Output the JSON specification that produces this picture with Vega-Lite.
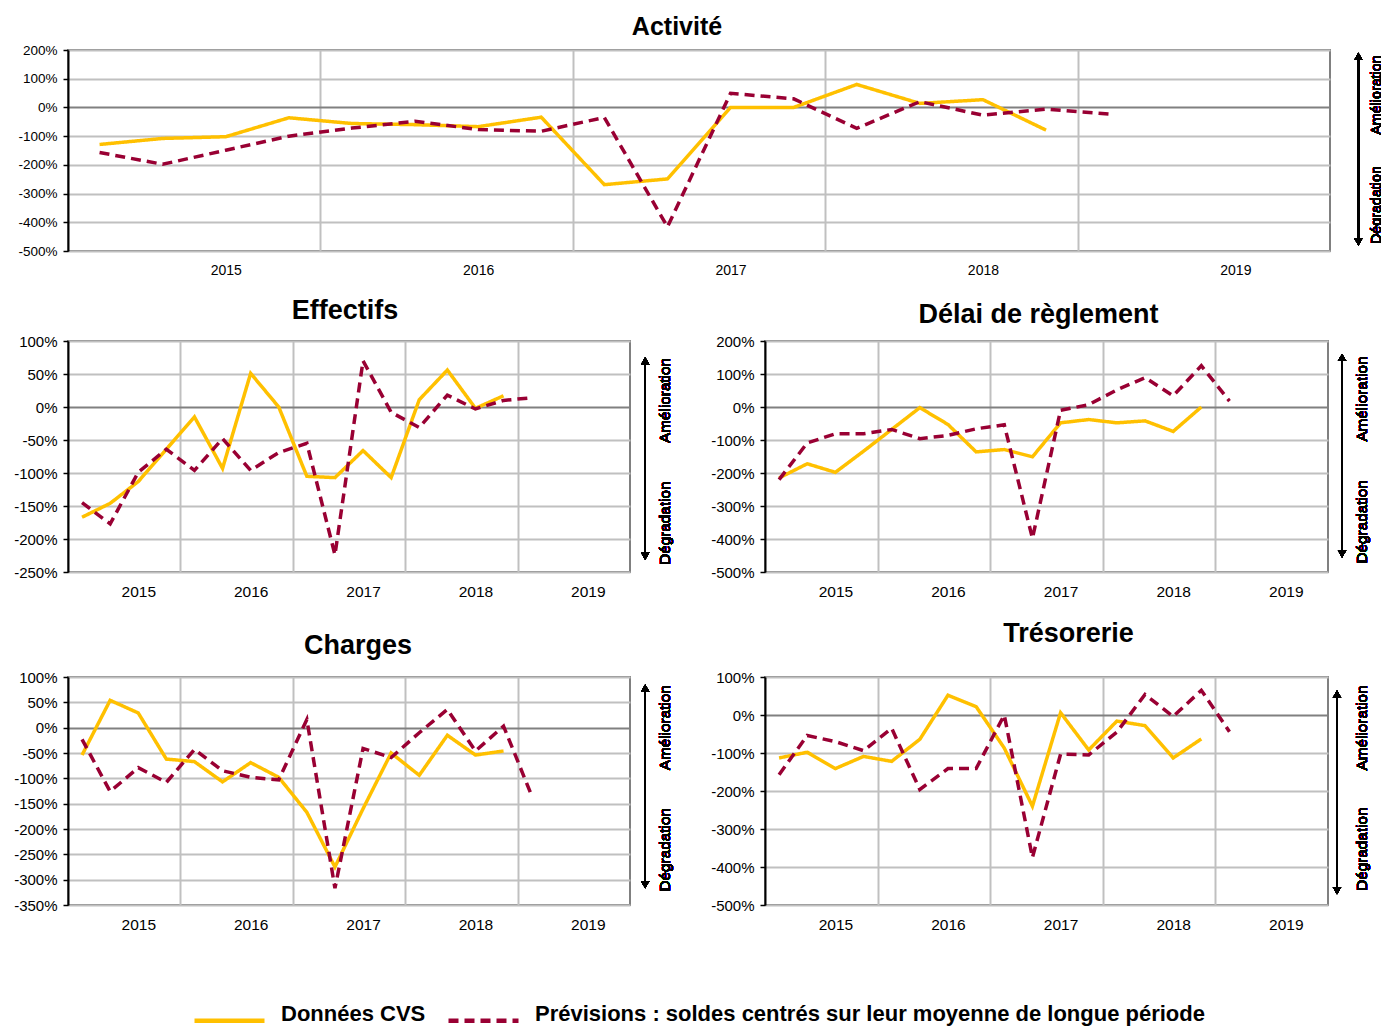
{
  "$schema": "https://vega.github.io/schema/vega-lite/v6.json",
  "padding": {"left": 12, "top": 14, "right": 0, "bottom": 4},
  "background": "white",
  "datasets": {
    "activite": [
      {"q":0,"s":"Données CVS","v":-129},{"q":1,"s":"Données CVS","v":-108},{"q":2,"s":"Données CVS","v":-102},{"q":3,"s":"Données CVS","v":-36},{"q":4,"s":"Données CVS","v":-56},{"q":5,"s":"Données CVS","v":-60},{"q":6,"s":"Données CVS","v":-67},{"q":7,"s":"Données CVS","v":-34},{"q":8,"s":"Données CVS","v":-269},{"q":9,"s":"Données CVS","v":-249},{"q":10,"s":"Données CVS","v":0},{"q":11,"s":"Données CVS","v":0},{"q":12,"s":"Données CVS","v":80},{"q":13,"s":"Données CVS","v":14},{"q":14,"s":"Données CVS","v":27},{"q":15,"s":"Données CVS","v":-79},
      {"q":0,"s":"Prévisions : soldes centrés sur leur moyenne de longue période","v":-157},{"q":1,"s":"Prévisions : soldes centrés sur leur moyenne de longue période","v":-198},{"q":2,"s":"Prévisions : soldes centrés sur leur moyenne de longue période","v":-149},{"q":3,"s":"Prévisions : soldes centrés sur leur moyenne de longue période","v":-100},{"q":4,"s":"Prévisions : soldes centrés sur leur moyenne de longue période","v":-72},{"q":5,"s":"Prévisions : soldes centrés sur leur moyenne de longue période","v":-48},{"q":6,"s":"Prévisions : soldes centrés sur leur moyenne de longue période","v":-77},{"q":7,"s":"Prévisions : soldes centrés sur leur moyenne de longue période","v":-83},{"q":8,"s":"Prévisions : soldes centrés sur leur moyenne de longue période","v":-35},{"q":9,"s":"Prévisions : soldes centrés sur leur moyenne de longue période","v":-416},{"q":10,"s":"Prévisions : soldes centrés sur leur moyenne de longue période","v":49},{"q":11,"s":"Prévisions : soldes centrés sur leur moyenne de longue période","v":30},{"q":12,"s":"Prévisions : soldes centrés sur leur moyenne de longue période","v":-73},{"q":13,"s":"Prévisions : soldes centrés sur leur moyenne de longue période","v":20},{"q":14,"s":"Prévisions : soldes centrés sur leur moyenne de longue période","v":-27},{"q":15,"s":"Prévisions : soldes centrés sur leur moyenne de longue période","v":-6},{"q":16,"s":"Prévisions : soldes centrés sur leur moyenne de longue période","v":-23}
    ],
    "effectifs": [
      {"q":0,"s":"Données CVS","v":-167},{"q":1,"s":"Données CVS","v":-146},{"q":2,"s":"Données CVS","v":-113},{"q":3,"s":"Données CVS","v":-64},{"q":4,"s":"Données CVS","v":-15},{"q":5,"s":"Données CVS","v":-93},{"q":6,"s":"Données CVS","v":51},{"q":7,"s":"Données CVS","v":0},{"q":8,"s":"Données CVS","v":-105},{"q":9,"s":"Données CVS","v":-107},{"q":10,"s":"Données CVS","v":-66},{"q":11,"s":"Données CVS","v":-107},{"q":12,"s":"Données CVS","v":11},{"q":13,"s":"Données CVS","v":56},{"q":14,"s":"Données CVS","v":-2},{"q":15,"s":"Données CVS","v":17},
      {"q":0,"s":"Prévisions : soldes centrés sur leur moyenne de longue période","v":-145},{"q":1,"s":"Prévisions : soldes centrés sur leur moyenne de longue période","v":-177},{"q":2,"s":"Prévisions : soldes centrés sur leur moyenne de longue période","v":-99},{"q":3,"s":"Prévisions : soldes centrés sur leur moyenne de longue période","v":-64},{"q":4,"s":"Prévisions : soldes centrés sur leur moyenne de longue période","v":-96},{"q":5,"s":"Prévisions : soldes centrés sur leur moyenne de longue période","v":-48},{"q":6,"s":"Prévisions : soldes centrés sur leur moyenne de longue période","v":-96},{"q":7,"s":"Prévisions : soldes centrés sur leur moyenne de longue période","v":-69},{"q":8,"s":"Prévisions : soldes centrés sur leur moyenne de longue période","v":-55},{"q":9,"s":"Prévisions : soldes centrés sur leur moyenne de longue période","v":-224},{"q":10,"s":"Prévisions : soldes centrés sur leur moyenne de longue période","v":70},{"q":11,"s":"Prévisions : soldes centrés sur leur moyenne de longue période","v":-8},{"q":12,"s":"Prévisions : soldes centrés sur leur moyenne de longue période","v":-31},{"q":13,"s":"Prévisions : soldes centrés sur leur moyenne de longue période","v":18},{"q":14,"s":"Prévisions : soldes centrés sur leur moyenne de longue période","v":-3},{"q":15,"s":"Prévisions : soldes centrés sur leur moyenne de longue période","v":10},{"q":16,"s":"Prévisions : soldes centrés sur leur moyenne de longue période","v":14}
    ],
    "delai": [
      {"q":0,"s":"Données CVS","v":-215},{"q":1,"s":"Données CVS","v":-172},{"q":2,"s":"Données CVS","v":-198},{"q":3,"s":"Données CVS","v":-134},{"q":4,"s":"Données CVS","v":-68},{"q":5,"s":"Données CVS","v":-2},{"q":6,"s":"Données CVS","v":-53},{"q":7,"s":"Données CVS","v":-136},{"q":8,"s":"Données CVS","v":-129},{"q":9,"s":"Données CVS","v":-151},{"q":10,"s":"Données CVS","v":-48},{"q":11,"s":"Données CVS","v":-38},{"q":12,"s":"Données CVS","v":-48},{"q":13,"s":"Données CVS","v":-42},{"q":14,"s":"Données CVS","v":-74},{"q":15,"s":"Données CVS","v":0},
      {"q":0,"s":"Prévisions : soldes centrés sur leur moyenne de longue période","v":-220},{"q":1,"s":"Prévisions : soldes centrés sur leur moyenne de longue période","v":-109},{"q":2,"s":"Prévisions : soldes centrés sur leur moyenne de longue période","v":-81},{"q":3,"s":"Prévisions : soldes centrés sur leur moyenne de longue période","v":-81},{"q":4,"s":"Prévisions : soldes centrés sur leur moyenne de longue période","v":-68},{"q":5,"s":"Prévisions : soldes centrés sur leur moyenne de longue période","v":-96},{"q":6,"s":"Prévisions : soldes centrés sur leur moyenne de longue période","v":-86},{"q":7,"s":"Prévisions : soldes centrés sur leur moyenne de longue période","v":-66},{"q":8,"s":"Prévisions : soldes centrés sur leur moyenne de longue période","v":-54},{"q":9,"s":"Prévisions : soldes centrés sur leur moyenne de longue période","v":-398},{"q":10,"s":"Prévisions : soldes centrés sur leur moyenne de longue période","v":-10},{"q":11,"s":"Prévisions : soldes centrés sur leur moyenne de longue période","v":7},{"q":12,"s":"Prévisions : soldes centrés sur leur moyenne de longue période","v":52},{"q":13,"s":"Prévisions : soldes centrés sur leur moyenne de longue période","v":89},{"q":14,"s":"Prévisions : soldes centrés sur leur moyenne de longue période","v":34},{"q":15,"s":"Prévisions : soldes centrés sur leur moyenne de longue période","v":125},{"q":16,"s":"Prévisions : soldes centrés sur leur moyenne de longue période","v":18}
    ],
    "charges": [
      {"q":0,"s":"Données CVS","v":-54},{"q":1,"s":"Données CVS","v":54},{"q":2,"s":"Données CVS","v":29},{"q":3,"s":"Données CVS","v":-62},{"q":4,"s":"Données CVS","v":-67},{"q":5,"s":"Données CVS","v":-107},{"q":6,"s":"Données CVS","v":-69},{"q":7,"s":"Données CVS","v":-98},{"q":8,"s":"Données CVS","v":-167},{"q":9,"s":"Données CVS","v":-275},{"q":10,"s":"Données CVS","v":-160},{"q":11,"s":"Données CVS","v":-50},{"q":12,"s":"Données CVS","v":-94},{"q":13,"s":"Données CVS","v":-15},{"q":14,"s":"Données CVS","v":-54},{"q":15,"s":"Données CVS","v":-46},
      {"q":0,"s":"Prévisions : soldes centrés sur leur moyenne de longue période","v":-23},{"q":1,"s":"Prévisions : soldes centrés sur leur moyenne de longue période","v":-126},{"q":2,"s":"Prévisions : soldes centrés sur leur moyenne de longue période","v":-79},{"q":3,"s":"Prévisions : soldes centrés sur leur moyenne de longue période","v":-108},{"q":4,"s":"Prévisions : soldes centrés sur leur moyenne de longue période","v":-43},{"q":5,"s":"Prévisions : soldes centrés sur leur moyenne de longue période","v":-85},{"q":6,"s":"Prévisions : soldes centrés sur leur moyenne de longue période","v":-98},{"q":7,"s":"Prévisions : soldes centrés sur leur moyenne de longue période","v":-103},{"q":8,"s":"Prévisions : soldes centrés sur leur moyenne de longue période","v":16},{"q":9,"s":"Prévisions : soldes centrés sur leur moyenne de longue période","v":-317},{"q":10,"s":"Prévisions : soldes centrés sur leur moyenne de longue période","v":-41},{"q":11,"s":"Prévisions : soldes centrés sur leur moyenne de longue période","v":-59},{"q":12,"s":"Prévisions : soldes centrés sur leur moyenne de longue période","v":-10},{"q":13,"s":"Prévisions : soldes centrés sur leur moyenne de longue période","v":36},{"q":14,"s":"Prévisions : soldes centrés sur leur moyenne de longue période","v":-46},{"q":15,"s":"Prévisions : soldes centrés sur leur moyenne de longue période","v":3},{"q":16,"s":"Prévisions : soldes centrés sur leur moyenne de longue période","v":-134}
    ],
    "tresorerie": [
      {"q":0,"s":"Données CVS","v":-113},{"q":1,"s":"Données CVS","v":-98},{"q":2,"s":"Données CVS","v":-141},{"q":3,"s":"Données CVS","v":-109},{"q":4,"s":"Données CVS","v":-122},{"q":5,"s":"Données CVS","v":-64},{"q":6,"s":"Données CVS","v":52},{"q":7,"s":"Données CVS","v":22},{"q":8,"s":"Données CVS","v":-87},{"q":9,"s":"Données CVS","v":-240},{"q":10,"s":"Données CVS","v":6},{"q":11,"s":"Données CVS","v":-92},{"q":12,"s":"Données CVS","v":-16},{"q":13,"s":"Données CVS","v":-28},{"q":14,"s":"Données CVS","v":-113},{"q":15,"s":"Données CVS","v":-63},
      {"q":0,"s":"Prévisions : soldes centrés sur leur moyenne de longue période","v":-157},{"q":1,"s":"Prévisions : soldes centrés sur leur moyenne de longue période","v":-54},{"q":2,"s":"Prévisions : soldes centrés sur leur moyenne de longue période","v":-70},{"q":3,"s":"Prévisions : soldes centrés sur leur moyenne de longue période","v":-94},{"q":4,"s":"Prévisions : soldes centrés sur leur moyenne de longue période","v":-35},{"q":5,"s":"Prévisions : soldes centrés sur leur moyenne de longue période","v":-196},{"q":6,"s":"Prévisions : soldes centrés sur leur moyenne de longue période","v":-141},{"q":7,"s":"Prévisions : soldes centrés sur leur moyenne de longue période","v":-141},{"q":8,"s":"Prévisions : soldes centrés sur leur moyenne de longue période","v":0},{"q":9,"s":"Prévisions : soldes centrés sur leur moyenne de longue période","v":-375},{"q":10,"s":"Prévisions : soldes centrés sur leur moyenne de longue période","v":-103},{"q":11,"s":"Prévisions : soldes centrés sur leur moyenne de longue période","v":-105},{"q":12,"s":"Prévisions : soldes centrés sur leur moyenne de longue période","v":-45},{"q":13,"s":"Prévisions : soldes centrés sur leur moyenne de longue période","v":54},{"q":14,"s":"Prévisions : soldes centrés sur leur moyenne de longue période","v":-4},{"q":15,"s":"Prévisions : soldes centrés sur leur moyenne de longue période","v":65},{"q":16,"s":"Prévisions : soldes centrés sur leur moyenne de longue période","v":-44}
    ]
  },
  "spacing": 18,
  "resolve": {"scale": {"color": "shared", "strokeDash": "shared"}},
  "vconcat": [
    {
      "width": 1262, "height": 201,
      "title": {"text": "Activité", "fontSize": 25, "offset": 3, "dx": -22},
      "data": {"name": "activite"},
      "layer": [
        {
          "mark": {"type": "line", "strokeWidth": 3.5},
          "encoding": {
            "x": {"field": "q", "type": "quantitative", "scale": {"domain": [-0.5, 19.5], "nice": false, "zero": false},
              "axis": {"values": [2, 3.5, 6, 7.5, 10, 11.5, 14, 15.5, 18], "tickCount": 100, "labelExpr": "datum.value % 1 === 0 ? '' + (2015 + (datum.value - 2) / 4) : ''", "labelFontSize": 14, "grid": true, "gridOpacity": {"condition": {"test": "datum.value % 1 === 0", "value": 0}, "value": 1}}},
            "y": {"field": "v", "type": "quantitative", "scale": {"domain": [-500, 200], "nice": false, "zero": false},
              "axis": {"values": [-500, -400, -300, -200, -100, 0, 100, 200], "tickCount": 100, "labelExpr": "datum.value + '%'", "labelFontSize": 13.5, "grid": true, "gridColor": {"condition": {"test": "datum.value === 0", "value": "#808080"}, "value": "#c0c0c0"}}},
            "color": {"field": "s", "type": "nominal", "scale": {"domain": ["Données CVS", "Prévisions : soldes centrés sur leur moyenne de longue période"], "range": ["#FFC000", "#990033"]}, "legend": {"title": null}},
            "strokeDash": {"field": "s", "type": "nominal", "scale": {"domain": ["Données CVS", "Prévisions : soldes centrés sur leur moyenne de longue période"], "range": [[1, 0], [10, 6]]}, "legend": {"title": null}}
          }
        },
        {"mark": {"type": "rule", "color": "black", "strokeWidth": 1.5}, "encoding": {"x": {"datum": 19.95}, "y": {"datum": 180}, "y2": {"datum": -470}}},
        {"mark": {"type": "point", "shape": "triangle-up", "filled": true, "color": "black", "size": 70, "opacity": 1, "strokeWidth": 0}, "encoding": {"x": {"datum": 19.95}, "y": {"datum": 178}}},
        {"mark": {"type": "point", "shape": "triangle-down", "filled": true, "color": "black", "size": 70, "opacity": 1, "strokeWidth": 0}, "encoding": {"x": {"datum": 19.95}, "y": {"datum": -468}}},
        {"mark": {"type": "text", "angle": 270, "font": "Liberation Sans", "fontSize": 14.3, "align": "center", "baseline": "middle", "color": "black"}, "encoding": {"x": {"datum": 20.24}, "y": {"datum": 43}, "text": {"value": "Amélioration"}}},
        {"mark": {"type": "text", "angle": 270, "font": "Liberation Sans", "fontSize": 14.3, "align": "center", "baseline": "middle", "color": "black"}, "encoding": {"x": {"datum": 20.24}, "y": {"datum": -340}, "text": {"value": "Dégradation"}}}
      ]
    },
    {
      "bounds": "flush",
      "spacing": 135,
      "hconcat": [
        {
          "width": 562, "height": 231,
          "title": {"text": "Effectifs", "fontSize": 27, "offset": 9, "dx": -4},
          "data": {"name": "effectifs"},
          "layer": [
            {
              "mark": {"type": "line", "strokeWidth": 3.5},
              "encoding": {
                "x": {"field": "q", "type": "quantitative", "scale": {"domain": [-0.5, 19.5], "nice": false, "zero": false},
                  "axis": {"values": [2, 3.5, 6, 7.5, 10, 11.5, 14, 15.5, 18], "tickCount": 100, "labelExpr": "datum.value % 1 === 0 ? '' + (2015 + (datum.value - 2) / 4) : ''", "labelFontSize": 15.5, "grid": true, "gridOpacity": {"condition": {"test": "datum.value % 1 === 0", "value": 0}, "value": 1}}},
                "y": {"field": "v", "type": "quantitative", "scale": {"domain": [-250, 100], "nice": false, "zero": false},
                  "axis": {"values": [-250, -200, -150, -100, -50, 0, 50, 100], "tickCount": 100, "labelExpr": "datum.value + '%'", "labelFontSize": 15, "grid": true, "gridColor": {"condition": {"test": "datum.value === 0", "value": "#808080"}, "value": "#c0c0c0"}}},
                "color": {"field": "s", "type": "nominal", "scale": {"domain": ["Données CVS", "Prévisions : soldes centrés sur leur moyenne de longue période"], "range": ["#FFC000", "#990033"]}, "legend": {"title": null}},
                "strokeDash": {"field": "s", "type": "nominal", "scale": {"domain": ["Données CVS", "Prévisions : soldes centrés sur leur moyenne de longue période"], "range": [[1, 0], [10, 6]]}, "legend": {"title": null}}
              }
            },
            {"mark": {"type": "rule", "color": "black", "strokeWidth": 1.5}, "encoding": {"x": {"datum": 20.04}, "y": {"datum": 70}, "y2": {"datum": -226}}},
            {"mark": {"type": "point", "shape": "triangle-up", "filled": true, "color": "black", "size": 70, "opacity": 1, "strokeWidth": 0}, "encoding": {"x": {"datum": 20.04}, "y": {"datum": 70}}},
            {"mark": {"type": "point", "shape": "triangle-down", "filled": true, "color": "black", "size": 70, "opacity": 1, "strokeWidth": 0}, "encoding": {"x": {"datum": 20.04}, "y": {"datum": -226}}},
            {"mark": {"type": "text", "angle": 270, "font": "Liberation Sans", "fontSize": 15.3, "align": "center", "baseline": "middle", "color": "black"}, "encoding": {"x": {"datum": 20.75}, "y": {"datum": 10}, "text": {"value": "Amélioration"}}},
            {"mark": {"type": "text", "angle": 270, "font": "Liberation Sans", "fontSize": 15.3, "align": "center", "baseline": "middle", "color": "black"}, "encoding": {"x": {"datum": 20.75}, "y": {"datum": -176}, "text": {"value": "Dégradation"}}}
          ]
        },
        {
          "width": 563, "height": 231,
          "title": {"text": "Délai de règlement", "fontSize": 27, "offset": 5, "dx": -8},
          "data": {"name": "delai"},
          "layer": [
            {
              "mark": {"type": "line", "strokeWidth": 3.5},
              "encoding": {
                "x": {"field": "q", "type": "quantitative", "scale": {"domain": [-0.5, 19.5], "nice": false, "zero": false},
                  "axis": {"values": [2, 3.5, 6, 7.5, 10, 11.5, 14, 15.5, 18], "tickCount": 100, "labelExpr": "datum.value % 1 === 0 ? '' + (2015 + (datum.value - 2) / 4) : ''", "labelFontSize": 15.5, "grid": true, "gridOpacity": {"condition": {"test": "datum.value % 1 === 0", "value": 0}, "value": 1}}},
                "y": {"field": "v", "type": "quantitative", "scale": {"domain": [-500, 200], "nice": false, "zero": false},
                  "axis": {"values": [-500, -400, -300, -200, -100, 0, 100, 200], "tickCount": 100, "labelExpr": "datum.value + '%'", "labelFontSize": 15, "grid": true, "gridColor": {"condition": {"test": "datum.value === 0", "value": "#808080"}, "value": "#c0c0c0"}}},
                "color": {"field": "s", "type": "nominal", "scale": {"domain": ["Données CVS", "Prévisions : soldes centrés sur leur moyenne de longue période"], "range": ["#FFC000", "#990033"]}, "legend": {"title": null}},
                "strokeDash": {"field": "s", "type": "nominal", "scale": {"domain": ["Données CVS", "Prévisions : soldes centrés sur leur moyenne de longue période"], "range": [[1, 0], [10, 6]]}, "legend": {"title": null}}
              }
            },
            {"mark": {"type": "rule", "color": "black", "strokeWidth": 1.5}, "encoding": {"x": {"datum": 20.0}, "y": {"datum": 150}, "y2": {"datum": -445}}},
            {"mark": {"type": "point", "shape": "triangle-up", "filled": true, "color": "black", "size": 70, "opacity": 1, "strokeWidth": 0}, "encoding": {"x": {"datum": 20.0}, "y": {"datum": 150}}},
            {"mark": {"type": "point", "shape": "triangle-down", "filled": true, "color": "black", "size": 70, "opacity": 1, "strokeWidth": 0}, "encoding": {"x": {"datum": 20.0}, "y": {"datum": -445}}},
            {"mark": {"type": "text", "angle": 270, "font": "Liberation Sans", "fontSize": 15.3, "align": "center", "baseline": "middle", "color": "black"}, "encoding": {"x": {"datum": 20.7}, "y": {"datum": 24}, "text": {"value": "Amélioration"}}},
            {"mark": {"type": "text", "angle": 270, "font": "Liberation Sans", "fontSize": 15.3, "align": "center", "baseline": "middle", "color": "black"}, "encoding": {"x": {"datum": 20.7}, "y": {"datum": -348}, "text": {"value": "Dégradation"}}}
          ]
        }
      ]
    },
    {
      "bounds": "flush",
      "spacing": 135,
      "hconcat": [
        {
          "width": 562, "height": 228,
          "title": {"text": "Charges", "fontSize": 27, "offset": 10, "dx": 9},
          "data": {"name": "charges"},
          "layer": [
            {
              "mark": {"type": "line", "strokeWidth": 3.5},
              "encoding": {
                "x": {"field": "q", "type": "quantitative", "scale": {"domain": [-0.5, 19.5], "nice": false, "zero": false},
                  "axis": {"values": [2, 3.5, 6, 7.5, 10, 11.5, 14, 15.5, 18], "tickCount": 100, "labelExpr": "datum.value % 1 === 0 ? '' + (2015 + (datum.value - 2) / 4) : ''", "labelFontSize": 15.5, "grid": true, "gridOpacity": {"condition": {"test": "datum.value % 1 === 0", "value": 0}, "value": 1}}},
                "y": {"field": "v", "type": "quantitative", "scale": {"domain": [-350, 100], "nice": false, "zero": false},
                  "axis": {"values": [-350, -300, -250, -200, -150, -100, -50, 0, 50, 100], "tickCount": 100, "labelExpr": "datum.value + '%'", "labelFontSize": 15, "grid": true, "gridColor": {"condition": {"test": "datum.value === 0", "value": "#808080"}, "value": "#c0c0c0"}}},
                "color": {"field": "s", "type": "nominal", "scale": {"domain": ["Données CVS", "Prévisions : soldes centrés sur leur moyenne de longue période"], "range": ["#FFC000", "#990033"]}, "legend": {"title": null}},
                "strokeDash": {"field": "s", "type": "nominal", "scale": {"domain": ["Données CVS", "Prévisions : soldes centrés sur leur moyenne de longue période"], "range": [[1, 0], [10, 6]]}, "legend": {"title": null}}
              }
            },
            {"mark": {"type": "rule", "color": "black", "strokeWidth": 1.5}, "encoding": {"x": {"datum": 20.04}, "y": {"datum": 78}, "y2": {"datum": -310}}},
            {"mark": {"type": "point", "shape": "triangle-up", "filled": true, "color": "black", "size": 70, "opacity": 1, "strokeWidth": 0}, "encoding": {"x": {"datum": 20.04}, "y": {"datum": 78}}},
            {"mark": {"type": "point", "shape": "triangle-down", "filled": true, "color": "black", "size": 70, "opacity": 1, "strokeWidth": 0}, "encoding": {"x": {"datum": 20.04}, "y": {"datum": -310}}},
            {"mark": {"type": "text", "angle": 270, "font": "Liberation Sans", "fontSize": 15.3, "align": "center", "baseline": "middle", "color": "black"}, "encoding": {"x": {"datum": 20.75}, "y": {"datum": 0}, "text": {"value": "Amélioration"}}},
            {"mark": {"type": "text", "angle": 270, "font": "Liberation Sans", "fontSize": 15.3, "align": "center", "baseline": "middle", "color": "black"}, "encoding": {"x": {"datum": 20.75}, "y": {"datum": -241}, "text": {"value": "Dégradation"}}}
          ]
        },
        {
          "width": 563, "height": 228,
          "title": {"text": "Trésorerie", "fontSize": 27, "offset": 22, "dx": 22},
          "data": {"name": "tresorerie"},
          "layer": [
            {
              "mark": {"type": "line", "strokeWidth": 3.5},
              "encoding": {
                "x": {"field": "q", "type": "quantitative", "scale": {"domain": [-0.5, 19.5], "nice": false, "zero": false},
                  "axis": {"values": [2, 3.5, 6, 7.5, 10, 11.5, 14, 15.5, 18], "tickCount": 100, "labelExpr": "datum.value % 1 === 0 ? '' + (2015 + (datum.value - 2) / 4) : ''", "labelFontSize": 15.5, "grid": true, "gridOpacity": {"condition": {"test": "datum.value % 1 === 0", "value": 0}, "value": 1}}},
                "y": {"field": "v", "type": "quantitative", "scale": {"domain": [-500, 100], "nice": false, "zero": false},
                  "axis": {"values": [-500, -400, -300, -200, -100, 0, 100], "tickCount": 100, "labelExpr": "datum.value + '%'", "labelFontSize": 15, "grid": true, "gridColor": {"condition": {"test": "datum.value === 0", "value": "#808080"}, "value": "#c0c0c0"}}},
                "color": {"field": "s", "type": "nominal", "scale": {"domain": ["Données CVS", "Prévisions : soldes centrés sur leur moyenne de longue période"], "range": ["#FFC000", "#990033"]}, "legend": {"title": null}},
                "strokeDash": {"field": "s", "type": "nominal", "scale": {"domain": ["Données CVS", "Prévisions : soldes centrés sur leur moyenne de longue période"], "range": [[1, 0], [10, 6]]}, "legend": {"title": null}}
              }
            },
            {"mark": {"type": "rule", "color": "black", "strokeWidth": 1.5}, "encoding": {"x": {"datum": 19.82}, "y": {"datum": 55}, "y2": {"datum": -462}}},
            {"mark": {"type": "point", "shape": "triangle-up", "filled": true, "color": "black", "size": 70, "opacity": 1, "strokeWidth": 0}, "encoding": {"x": {"datum": 19.82}, "y": {"datum": 55}}},
            {"mark": {"type": "point", "shape": "triangle-down", "filled": true, "color": "black", "size": 70, "opacity": 1, "strokeWidth": 0}, "encoding": {"x": {"datum": 19.82}, "y": {"datum": -462}}},
            {"mark": {"type": "text", "angle": 270, "font": "Liberation Sans", "fontSize": 15.3, "align": "center", "baseline": "middle", "color": "black"}, "encoding": {"x": {"datum": 20.7}, "y": {"datum": -34}, "text": {"value": "Amélioration"}}},
            {"mark": {"type": "text", "angle": 270, "font": "Liberation Sans", "fontSize": 15.3, "align": "center", "baseline": "middle", "color": "black"}, "encoding": {"x": {"datum": 20.7}, "y": {"datum": -353}, "text": {"value": "Dégradation"}}}
          ]
        }
      ]
    }
  ],
  "config": {
    "font": "Liberation Sans",
    "view": {"stroke": "#808080", "strokeWidth": 2},
    "axisY": {"title": null, "domainColor": "black", "domainWidth": 2, "tickColor": "black", "tickSize": 5, "tickWidth": 1.5, "labelColor": "black", "labelPadding": 6, "gridWidth": 2, "labelFont": "Liberation Sans", "labelOverlap": false},
    "axisX": {"title": null, "domain": false, "ticks": false, "labelColor": "black", "labelPadding": 12, "gridColor": "#c0c0c0", "gridWidth": 2, "labelOverlap": false, "labelFlush": false, "labelFont": "Liberation Sans"},
    "title": {"font": "Liberation Sans", "fontWeight": "bold", "color": "black", "anchor": "middle"},
    "legend": {"orient": "bottom", "direction": "horizontal", "symbolType": "stroke", "symbolSize": 4900, "symbolStrokeWidth": 4.5, "labelFont": "Liberation Sans", "labelFontWeight": "bold", "labelFontSize": 22, "labelColor": "black", "labelLimit": 0, "labelBaseline": "alphabetic", "columnPadding": 13, "labelOffset": 14, "offset": 49, "layout": {"bottom": {"anchor": "middle"}}}
  }
}
